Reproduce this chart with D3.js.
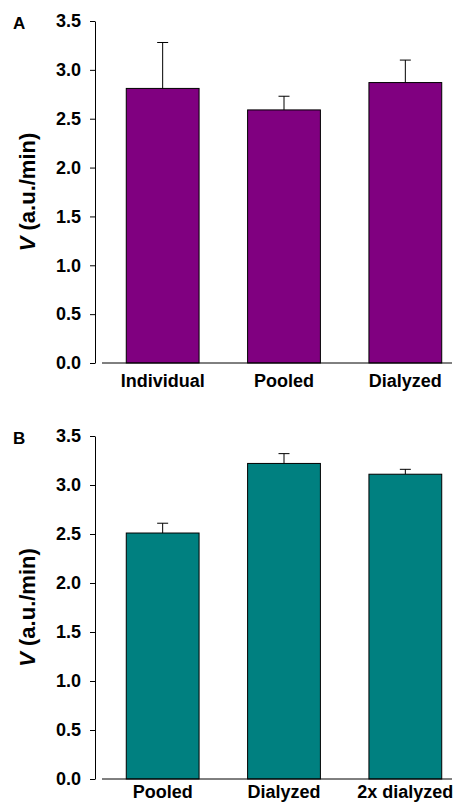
<!DOCTYPE html>
<html>
<head>
<meta charset="utf-8">
<script src="https://cdn.jsdelivr.net/npm/d3@7"></script>
<style>
  html, body { margin: 0; padding: 0; background: #fff; }
  svg { display: block; }
  text { font-family: "Liberation Sans", Arial, sans-serif; font-weight: bold; fill: #000; }
</style>
</head>
<body>
<svg id="chart" width="456" height="803"></svg>
<script>
// Panel A: individual vs pooled vs dialyzed samples
const categoriesA = ["Individual", "Pooled", "Dialyzed"];
const meansA = [2.81, 2.59, 2.87];
const errorsA = [0.47, 0.14, 0.23];

// Panel B: pooled vs dialyzed vs twice-dialyzed samples
const categoriesB = ["Pooled", "Dialyzed", "2x dialyzed"];
const meansB = [2.51, 3.22, 3.11];
const errorsB = [0.10, 0.10, 0.05];

const yTicks = [0, 0.5, 1.0, 1.5, 2.0, 2.5, 3.0, 3.5];

const svg = d3.select("#chart");

function drawPanel(opts) {
  const { label, categories, means, errors, color, top, bottom, labelOffset } = opts;
  const g = svg.append("g");

  const y = d3.scaleLinear().domain([0, 3.5]).range([bottom, top]);
  const x = d3.scaleBand().domain(categories).range([102, 466])
    .paddingInner(0.4).paddingOuter(0.2);

  // y axis
  const yAxis = d3.axisLeft(y).tickValues(yTicks).tickFormat(d3.format(".1f"))
    .tickSize(5).tickSizeOuter(0).tickPadding(9);
  const ya = g.append("g").attr("transform", "translate(95,0)").call(yAxis);
  ya.select(".domain").attr("stroke", "#000").attr("stroke-width", 1);
  ya.selectAll(".tick line").attr("stroke", "#000");
  ya.selectAll(".tick text").style("font-size", "18px").attr("fill", "#000");

  // bars
  g.selectAll("rect.bar").data(categories).enter().append("rect")
    .attr("class", "bar")
    .attr("x", d => x(d))
    .attr("width", x.bandwidth())
    .attr("y", (d, i) => y(means[i]))
    .attr("height", (d, i) => y(0) - y(means[i]))
    .attr("fill", color)
    .attr("stroke", "#000")
    .attr("stroke-width", 1);

  // upper error bars
  const cap = 5.5;
  categories.forEach((c, i) => {
    const cx = x(c) + x.bandwidth() / 2;
    g.append("line")
      .attr("x1", cx).attr("x2", cx)
      .attr("y1", y(means[i])).attr("y2", y(means[i] + errors[i]))
      .attr("stroke", "#000").attr("stroke-width", 1);
    g.append("line")
      .attr("x1", cx - cap).attr("x2", cx + cap)
      .attr("y1", y(means[i] + errors[i])).attr("y2", y(means[i] + errors[i]))
      .attr("stroke", "#000").attr("stroke-width", 1);
  });

  // x axis baseline
  g.append("line")
    .attr("x1", 102).attr("x2", 452)
    .attr("y1", y(0)).attr("y2", y(0))
    .attr("stroke", "#000").attr("stroke-width", 1);

  // category labels
  g.selectAll("text.cat").data(categories).enter().append("text")
    .attr("class", "cat")
    .attr("x", d => x(d) + x.bandwidth() / 2)
    .attr("y", y(0) + labelOffset)
    .attr("text-anchor", "middle")
    .style("font-size", "18px")
    .text(d => d);

  // y axis title
  const t = g.append("text")
    .attr("transform", `translate(35,${(top + bottom) / 2}) rotate(-90)`)
    .attr("text-anchor", "middle")
    .style("font-size", "22px");
  t.append("tspan").style("font-style", "italic").text("V");
  t.append("tspan").text(" (a.u./min)");

  // panel label
  g.append("text")
    .attr("x", 13).attr("y", top + 8)
    .style("font-size", "17px")
    .text(label);
}

drawPanel({ label: "A", categories: categoriesA, means: meansA, errors: errorsA,
  color: "#800080", top: 21, bottom: 363, labelOffset: 24 });
drawPanel({ label: "B", categories: categoriesB, means: meansB, errors: errorsB,
  color: "#008080", top: 436, bottom: 779, labelOffset: 19 });
</script>
</body>
</html>
